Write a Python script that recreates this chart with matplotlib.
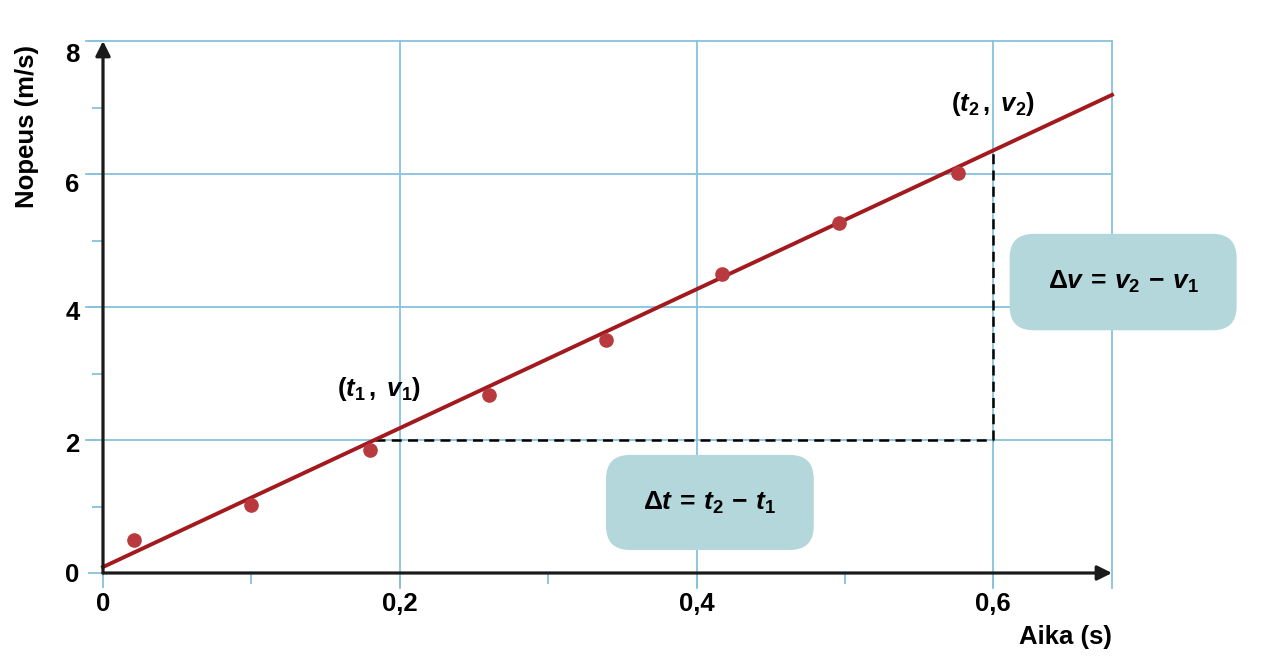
import numpy as np
import matplotlib.pyplot as plt
from matplotlib.patches import FancyBboxPatch
from matplotlib.transforms import ScaledTranslation

plt.rcParams['font.family'] = ['Liberation Sans', 'DejaVu Sans']
plt.rcParams['mathtext.fontset'] = 'custom'
plt.rcParams['mathtext.rm'] = 'Liberation Sans:bold'
plt.rcParams['mathtext.it'] = 'Liberation Sans:italic:bold'
plt.rcParams['mathtext.bf'] = 'Liberation Sans:bold'

# measured points (time s, speed m/s)
t_data = [0.021, 0.100, 0.180, 0.260, 0.339, 0.417, 0.496, 0.576]
v_data = [0.50, 1.02, 1.85, 2.68, 3.50, 4.50, 5.26, 6.02]

# fitted line end points
fit_t = [0.0, 0.68]
fit_v = [0.09, 7.19]

# points used for the slope triangle
t1, v1 = 0.183, 2.0
t2, v2 = 0.6, 6.35

x_major = [0, 0.2, 0.4, 0.6]
x_labels = ['0', '0,2', '0,4', '0,6']
x_minor = [0.1, 0.3, 0.5]
y_major = [0, 2, 4, 6, 8]
y_labels = ['0', '2', '4', '6', '8']
y_minor = [1, 3, 5, 7]

grid_c = '#86c3dd'
box_c = '#b3d7da'
line_c = '#a31a1e'
dot_c = '#b83a3e'

fig = plt.figure(figsize=(12.8, 6.68), dpi=100)
ax = fig.add_axes([103 / 1280, 95 / 668, 1009 / 1280, 532 / 668])
ax.set_xlim(0, 0.68)
ax.set_ylim(0, 8)
for s in ax.spines.values():
    s.set_visible(False)

# grid, extended a bit beyond the axes
for x in x_major[1:] + [0.68]:
    ax.axvline(x, ymin=-0.028, ymax=1, color=grid_c, lw=1.3, clip_on=False, zorder=1)
for y in y_major[1:]:
    ax.axhline(y, xmin=-0.017, xmax=1, color=grid_c, lw=1.3, clip_on=False, zorder=1)

ax.set_xticks(x_major)
ax.set_xticklabels(x_labels)
ax.set_xticks(x_minor, minor=True)
ax.set_yticks(y_major)
ax.set_yticklabels(y_labels)
ax.set_yticks(y_minor, minor=True)
ax.tick_params(which='major', length=11, width=1.3, color=grid_c, labelsize=18.5, pad=3)
ax.tick_params(which='minor', length=8, width=1.3, color=grid_c)
ax.tick_params(axis='y', which='major', pad=6)
for lab in ax.get_xticklabels() + ax.get_yticklabels():
    lab.set_fontweight('bold')
# top labels sit a little below their grid lines in the original
shift = {'8': -11, '6': -8, '4': -3, '2': -3}
for lab in ax.get_yticklabels():
    dy = shift.get(lab.get_text(), 0)
    lab.set_transform(lab.get_transform() + ScaledTranslation(0, dy / 100, fig.dpi_scale_trans))

# axes with arrows
ax.annotate('', xy=(0.68, 0), xytext=(0, 0),
            arrowprops=dict(arrowstyle='-|>', color='#1a1a1a', lw=2.3, mutation_scale=22,
                            shrinkA=0, shrinkB=0), annotation_clip=False, zorder=5)
ax.annotate('', xy=(0, 8), xytext=(0, 0),
            arrowprops=dict(arrowstyle='-|>', color='#1a1a1a', lw=2.3, mutation_scale=22,
                            shrinkA=0, shrinkB=0), annotation_clip=False, zorder=5)

# slope triangle
ax.plot([t1, t2], [v1, v1], color='black', lw=1.8, ls=(0, (4, 2.5)), zorder=3)
ax.plot([t2, t2], [v1, v2], color='black', lw=1.8, ls=(0, (4, 2.5)), zorder=3)

ax.plot(fit_t, fit_v, color=line_c, lw=2.8, zorder=4, clip_on=False)
ax.plot(t_data, v_data, 'o', color=dot_c, ms=9.5, zorder=4)

ax.text(0.186, 2.77, r'$(t_1\,,\;v_1)$', fontsize=18.5, ha='center', va='center')
ax.text(0.600, 7.05, r'$(t_2\,,\;v_2)$', fontsize=18.5, ha='center', va='center')

# rounded boxes (data coords, rounding corrected for aspect)
px_x = 0.68 / 1009
px_y = 8 / 532
boxes = [
    (0.339, 0.346, 0.140, 1.43, r'$\Delta t\,=\,t_2\,-\,t_1$', 0.409, 1.06),
    (0.611, 3.65, 0.153, 1.45, r'$\Delta v\,=\,v_2\,-\,v_1$', 0.6875, 4.38),
]
for bx, by, bw, bh, txt, tx, ty in boxes:
    p = FancyBboxPatch((bx, by), bw, bh,
                       boxstyle='round,pad=0,rounding_size=%f' % (24 * px_x),
                       mutation_aspect=px_y / px_x, fc=box_c, ec='none',
                       clip_on=False, zorder=6)
    ax.add_patch(p)
    ax.text(tx, ty, txt, fontsize=19, ha='center', va='center', zorder=7)

fig.text(27 / 1280, 1 - 127 / 668, 'Nopeus (m/s)', rotation=90, fontsize=18.5,
         fontweight='bold', ha='center', va='center')
fig.text(1112 / 1280, 1 - 637 / 668, 'Aika (s)', fontsize=18.5, fontweight='bold',
         ha='right', va='center')

fig.savefig('out.png', dpi=100)
